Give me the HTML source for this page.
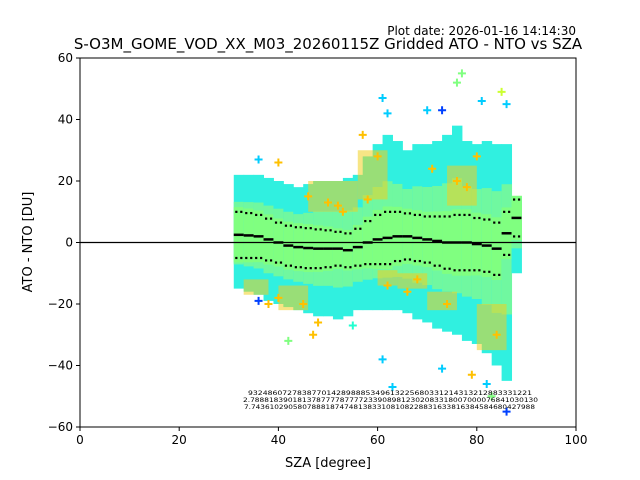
<!DOCTYPE html>
<html><head><meta charset="utf-8"><style>
body{margin:0;background:#fff}
svg{display:block;font-family:"DejaVu Sans","Liberation Sans",sans-serif}
</style></head><body>
<svg id="c" width="640" height="480" viewBox="0 0 640 480">
<rect width="640" height="480" fill="#fff"/>
<text x="576" y="35" font-size="12" text-anchor="end">Plot date: 2026-01-16 14:14:30</text>
<text x="328" y="49" font-size="15" text-anchor="middle">S-O3M_GOME_VOD_XX_M03_20260115Z Gridded ATO - NTO vs SZA</text>
<g id="plot"></g>
<text x="328" y="467" font-size="13" text-anchor="middle">SZA [degree]</text>
<text transform="translate(32,242) rotate(-90)" font-size="13" text-anchor="middle">ATO - NTO [DU]</text>
</svg>
<script>
const sza   = [32,34,36,38,40,42,44,46,48,50,52,54,56,58,60,62,64,66,68,70,72,74,76,78,80,82,84,86,88];
const upper = [22,22,22,21,20,19,18,19,20,20,20,21,22,28,32,35,33,30,32,32,33,35,38,33,32,33,32,32,15];
const lower = [-15,-16,-17,-19,-20,-21,-22,-23,-24,-24,-25,-24,-22,-22,-22,-22,-22,-23,-25,-26,-28,-29,-30,-32,-33,-36,-40,-45,-10];
const meanV = [2.5,2.3,2,1,0,-1,-1.5,-1.8,-2,-2,-2,-2.5,-1.5,0,1,1.5,2,2,1.5,1,0.5,0,0,0,-0.5,-1,-2,3,8];
const stdV  = [7.5,7.3,7,6.8,6.5,6.5,6.5,6.5,6.3,6,5.5,5.5,6,7,8,8.5,8,7.5,7.5,7.5,8,8.5,9,9,8.5,8.5,8.5,7,6];
const patchFrom = [46,56,40,74,80,64,33,60,70];
const patchTo   = [56,62,46,80,86,70,38,64,76];
const patchLo   = [10,14,-22,12,-35,-15,-17,-14,-22];
const patchHi   = [20,30,-14,25,-20,-10,-12,-9,-16];
const outSza = [36,40,61,62,70,73,76,77,81,85,86,61,63,73,79,82,86,47,42,36,48,55,83,50,52,58,60,57,45,40,38,68,76,84,62,74,80,66,71,78,46,53];
const outVal = [27,26,47,42,43,43,52,55,46,49,45,-38,-47,-41,-43,-46,-55,-30,-32,-19,-26,-27,-50,13,12,14,28,35,-20,-18,-20,-12,20,-30,-14,-20,28,-16,24,18,15,10];
const outCol = ["#00ccff","#ffc000","#00ccff","#00ccff","#00ccff","#0040ff","#80ff80","#80ff80","#00ccff","#ccff30","#00ccff","#00ccff","#00ccff","#00ccff","#ffc000","#00ccff","#0040ff","#ffc000","#80ff80","#0040ff","#ffc000","#20ffd0","#80ff80","#ffc000","#ffc000","#ffc000","#ffc000","#ffc000","#ffc000","#ffc000","#ffc000","#ffc000","#ffc000","#ffc000","#ffc000","#ffc000","#ffc000","#ffc000","#ffc000","#ffc000","#ffc000","#ffc000"];
const xTicks = [0,20,40,60,80,100];
const yTicks = [-60,-40,-20,0,20,40,60];
const countRows = ["9324860727838770142898885349613225680331214313212883331221","2.7888183901813787777877772339089812302083318007000076841030130","7.7436102905807888187474813833108108228831633816384584680427988"];

const NS="http://www.w3.org/2000/svg";
const X0=80,X1=576,Y0=427,Y1=58;
const xs=v=>X0+(v-0)/100*(X1-X0);
const ys=v=>Y0-(v+60)/120*(Y0-Y1);
const g=document.getElementById('plot');
function mk(t,a,p){const e=document.createElementNS(NS,t);for(const k in a)e.setAttribute(k,a[k]);(p||g).appendChild(e);return e;}

const cp=mk('clipPath',{id:'cl'});mk('rect',{x:X0,y:Y1,width:X1-X0,height:Y0-Y1},cp);
const cg=mk('g',{'clip-path':'url(#cl)'});


sza.forEach((s,i)=>{
  const xa=xs(s-1), w=xs(s+1)-xs(s-1);
  let r=mk('rect',{x:xa,y:ys(upper[i]),width:w+0.5,height:ys(lower[i])-ys(upper[i]),fill:'#30f0e0'},cg);
  
  
  const u2=(upper[i]*0.55+meanV[i]*0.45), l2=(lower[i]*0.55+meanV[i]*0.45);
  r=mk('rect',{x:xa,y:ys(u2),width:w+0.5,height:ys(l2)-ys(u2),fill:'#70f8a0'},cg);
  
  
  const u3=meanV[i]+stdV[i]*1.2, l3=meanV[i]-stdV[i]*1.2;
  r=mk('rect',{x:xa,y:ys(u3),width:w+0.5,height:ys(l3)-ys(u3),fill:'#80ff80'},cg);
  
  
});
patchFrom.forEach((a,i)=>{
  const r=mk('rect',{x:xs(a),y:ys(patchHi[i]),width:xs(patchTo[i])-xs(a),height:ys(patchLo[i])-ys(patchHi[i]),fill:'#f0d020',opacity:0.55},cg);
  
  
});
outSza.forEach((s,i)=>{
  const x=xs(s),y=ys(outVal[i]);
  const p=mk('path',{d:`M${x-4},${y}H${x+4}M${x},${y-4}V${y+4}`,stroke:outCol[i],'stroke-width':2},cg);
  
  
});
let z=mk('line',{x1:X0,x2:X1,y1:ys(0),y2:ys(0),stroke:'#000','stroke-width':1.2});


sza.forEach((s,i)=>{
  let m=mk('line',{x1:xs(s-1),x2:xs(s+1),y1:ys(meanV[i]),y2:ys(meanV[i]),stroke:'#000','stroke-width':2.5});
  
  
  [1,-1].forEach(sg=>{
    const v=meanV[i]+sg*stdV[i];
    [s-0.5,s+0.5].forEach(ss=>{
      const d=mk('rect',{x:xs(ss)-1,y:ys(v)-1,width:2.2,height:2.2,fill:'#000'});
      
      
    });
  });
});
const rowY=[395,402,409], rowX=[248,243,244], rowW=[284,295,291];
countRows.forEach((t,i)=>{
  const e=mk('text',{x:rowX[i],y:rowY[i],'font-size':6.5,textLength:rowW[i],lengthAdjust:'spacingAndGlyphs'});
  e.textContent=t;
  
  
});
let f=mk('rect',{x:X0,y:Y1,width:X1-X0,height:Y0-Y1,fill:'none',stroke:'#000','stroke-width':1});


xTicks.forEach(t=>{
  const x=xs(t);
  const l=mk('line',{x1:x,x2:x,y1:Y0,y2:Y0+4,stroke:'#000'});
  
  
  const e=mk('text',{x:x,y:Y0+17,'font-size':12,'text-anchor':'middle'});
  e.textContent=t;
  
  
});
yTicks.forEach(t=>{
  const y=ys(t);
  const l=mk('line',{x1:X0-4,x2:X0,y1:y,y2:y,stroke:'#000'});
  
  
  const e=mk('text',{x:X0-7,y:y+4,'font-size':12,'text-anchor':'end'});
  e.textContent=t<0?'\u2212'+(-t):t;
  
  
});
</script>
</body></html>
